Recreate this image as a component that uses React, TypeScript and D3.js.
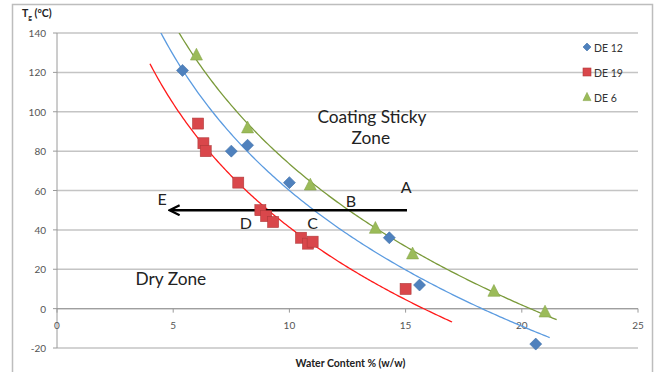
import React from "react";
import * as d3 from "d3";

const W = 657, H = 372;

const xTicks = [0, 5, 10, 15, 20, 25];
const yTicks = [-20, 0, 20, 40, 60, 80, 100, 120, 140];

const de12X = [5.4, 7.5, 8.2, 10.0, 14.3, 15.6, 20.6];
const de12Y = [121, 80, 83, 64, 36, 12, -18];

const de19X = [6.07, 6.3, 6.4, 7.8, 8.75, 9.0, 9.3, 10.5, 10.8, 11.0, 15.0];
const de19Y = [94, 84, 80, 64, 50, 47, 44, 36, 33, 34, 10];

const de6X = [6.0, 8.2, 10.9, 13.7, 15.3, 18.8, 21.0];
const de6Y = [129, 92, 63, 41, 28, 9, -1.5];

const seriesNames = ["DE 12", "DE 19", "DE 6"];
const trendRanges: [number, number][] = [[3.4, 21.2], [4.0, 17.0], [4.0, 21.5]];

const labels = ["A", "B", "C", "D", "E"];
const labelX = [15.02, 12.65, 11.0, 8.13, 4.52];
const labelY = [62, 55, 44, 44, 56];

const arrowFrom = [15.06, 50];
const arrowTo = [4.9, 50];

const M = { left: 57, right: 638, top: 33, bottom: 348 };

const x = d3.scaleLinear().domain([0, 25]).range([M.left, M.right]);
const y = d3.scaleLinear().domain([-20, 140]).range([M.bottom, M.top]);

function logFit(xs: number[], ys: number[]) {
  const lx = xs.map(Math.log);
  const mx = d3.mean(lx)!;
  const my = d3.mean(ys)!;
  let sxy = 0, sxx = 0;
  lx.forEach((v, i) => { sxy += (v - mx) * (ys[i] - my); sxx += (v - mx) * (v - mx); });
  const b = sxy / sxx;
  const a = my - b * mx;
  return (v: number) => a + b * Math.log(v);
}

const colors = {
  blue: "#4F81BD", blueLine: "#5B9BE0",
  red: "#D9474B", redStroke: "#B03A3A", redLine: "#FF1A1A",
  green: "#9BBB59", greenLine: "#7A9A3A",
};

const font = "Lato, 'Open Sans', sans-serif";

function Diamond({ cx, cy, r }: { cx: number; cy: number; r: number }) {
  return <path d={`M${cx},${cy - r}L${cx + r},${cy}L${cx},${cy + r}L${cx - r},${cy}Z`} fill={colors.blue} stroke="#3E6FA8" strokeWidth={0.6} />;
}
function Square({ cx, cy, s }: { cx: number; cy: number; s: number }) {
  return <rect x={cx - s / 2} y={cy - s / 2} width={s} height={s} fill={colors.red} stroke={colors.redStroke} strokeWidth={0.6} />;
}
function Triangle({ cx, cy, s }: { cx: number; cy: number; s: number }) {
  const h = s * 0.9;
  return <path d={`M${cx},${cy - h / 2 - 1}L${cx + s / 2},${cy + h / 2}L${cx - s / 2},${cy + h / 2}Z`} fill={colors.green} stroke="#86A64A" strokeWidth={0.6} />;
}

export default function App() {
  const fits = [logFit(de12X, de12Y), logFit(de19X, de19Y), logFit(de6X, de6Y)];
  const lineColors = [colors.blueLine, colors.redLine, colors.greenLine];
  const line = d3.line<[number, number]>().x(d => x(d[0])).y(d => y(d[1]));
  const trendPaths = fits.map((f, i) => {
    const [a, b] = trendRanges[i];
    const pts: [number, number][] = d3.range(0, 201).map(k => {
      const v = a + (b - a) * k / 200;
      return [v, f(v)];
    });
    return line(pts)!;
  });

  return (
    <svg width={W} height={H} style={{ position: "absolute", left: 0, top: 0, background: "#fff" }}>
      <defs>
        <clipPath id="plot">
          <rect x={M.left} y={M.top} width={M.right - M.left} height={M.bottom - M.top} />
        </clipPath>
        <marker id="arrowhead" viewBox="0 0 10 10" refX="8" refY="5" markerWidth="5" markerHeight="5" orient="auto">
          <path d="M1,1 L9,5 L1,9" fill="none" stroke="#000" strokeWidth="1.8" />
        </marker>
      </defs>
      <rect x={12.5} y={4.5} width={640} height={380} fill="none" stroke="#bdbdbd" strokeWidth={1.5} />

      {/* gridlines */}
      {yTicks.map(t => (
        <line key={t} x1={M.left} x2={M.right} y1={y(t)} y2={y(t)} stroke="#c4c4c4" strokeWidth={1.5} />
      ))}
      {/* y axis */}
      <line x1={M.left} x2={M.left} y1={M.top} y2={M.bottom} stroke="#9a9a9a" strokeWidth={1} />
      {yTicks.map(t => (
        <line key={"yt" + t} x1={M.left - 4} x2={M.left} y1={y(t)} y2={y(t)} stroke="#9a9a9a" />
      ))}
      {/* x axis at 0 */}
      <line x1={M.left} x2={M.right} y1={y(0)} y2={y(0)} stroke="#9a9a9a" strokeWidth={1} />
      {xTicks.map(t => (
        <line key={"xt" + t} x1={x(t)} x2={x(t)} y1={y(0)} y2={y(0) + 4} stroke="#9a9a9a" />
      ))}
      {yTicks.map(t => (
        <text key={"yl" + t} x={M.left - 11} y={y(t)} textAnchor="end" dominantBaseline="central" fontSize={10} fill="#555" fontFamily={font}>{t}</text>
      ))}
      {xTicks.map(t => (
        <text key={"xl" + t} x={x(t)} y={y(0) + 16} textAnchor="middle" dominantBaseline="central" fontSize={10} fill="#555" fontFamily={font}>{t}</text>
      ))}

      <text x={22} y={17} fontSize={10.5} fontWeight="bold" fontFamily={font} fill="#222">
        T<tspan fontSize={7} dy={3}>g</tspan><tspan dy={-3}> (°C)</tspan>
      </text>
      <text x={(M.left + M.right) / 2 + 3} y={363} textAnchor="middle" fontSize={10.5} fontWeight="bold" fontFamily={font} fill="#222" dominantBaseline="central">Water Content % (w/w)</text>

      {/* trend lines */}
      <g clipPath="url(#plot)">
        {trendPaths.map((p, i) => (
          <path key={i} d={p} fill="none" stroke={lineColors[i]} strokeWidth={1.3} />
        ))}
      </g>

      {/* annotations */}
      <text x={x(13.55)} y={y(97.4)} textAnchor="middle" dominantBaseline="central" fontSize={17.3} fontFamily={font} fill="#222">Coating Sticky</text>
      <text x={x(13.5)} y={y(86.8)} textAnchor="middle" dominantBaseline="central" fontSize={17.3} fontFamily={font} fill="#222">Zone</text>
      <text x={x(4.9)} y={y(15.2)} textAnchor="middle" dominantBaseline="central" fontSize={17.3} fontFamily={font} fill="#222">Dry Zone</text>
      {labels.map((l, i) => (
        <text key={l} x={x(labelX[i])} y={y(labelY[i])} textAnchor="middle" dominantBaseline="central" fontSize={16} fontFamily={font} fill="#222">{l}</text>
      ))}
      <line x1={x(arrowFrom[0])} y1={y(arrowFrom[1])} x2={x(arrowTo[0])} y2={y(arrowTo[1])} stroke="#000" strokeWidth={2.5} markerEnd="url(#arrowhead)" />

      {/* points */}
      {de12X.map((v, i) => <Diamond key={"b" + i} cx={x(v)} cy={y(de12Y[i])} r={6} />)}
      {de19X.map((v, i) => <Square key={"r" + i} cx={x(v)} cy={y(de19Y[i])} s={11} />)}
      {de6X.map((v, i) => <Triangle key={"g" + i} cx={x(v)} cy={y(de6Y[i])} s={12} />)}

      {/* legend */}
      {seriesNames.map((n, i) => {
        const ly = 47 + i * 25;
        return (
          <g key={n}>
            {i === 0 && <Diamond cx={587} cy={ly} r={4} />}
            {i === 1 && <Square cx={587} cy={ly} s={8} />}
            {i === 2 && <Triangle cx={587} cy={ly} s={8} />}
            <text x={594} y={ly + 1} dominantBaseline="central" fontSize={10.5} fontFamily={font} fill="#333">{n}</text>
          </g>
        );
      })}
    </svg>
  );
}
